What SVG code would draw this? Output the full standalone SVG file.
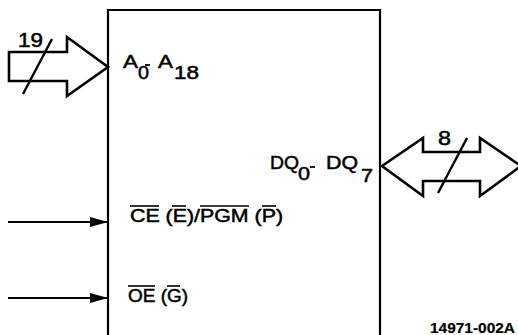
<svg xmlns="http://www.w3.org/2000/svg" width="518" height="335" viewBox="0 0 518 335">
  <style>
    .body { fill: none; stroke: #000; stroke-width: 2.2; }
    .bus { fill: #fff; stroke: #000; stroke-width: 2.6; stroke-linejoin: miter; }
    .slash { stroke: #000; stroke-width: 2.4; }
    .wire { stroke: #000; stroke-width: 2.2; }
    .bar { stroke: #000; stroke-width: 1.6; }
    .dash { stroke: #000; stroke-width: 1.8; }
    text { font-family: "Liberation Sans", Arial, sans-serif; fill: #000; stroke: #000; stroke-width: 0.5; }
    .pin { font-size: 18px; }
    .num { font-size: 20px; }
    .ref { font-size: 15px; font-weight: bold; stroke-width: 0.2; }
  </style>
  <defs>
    <marker id="head" viewBox="0 0 18 10" refX="18" refY="5" markerWidth="18" markerHeight="10" markerUnits="userSpaceOnUse" orient="auto">
      <path d="M0,0 L18,5 L0,10 Z" fill="#000"/>
    </marker>
  </defs>

  <rect width="518" height="335" fill="#fff"/>

  <!-- device body (open at the bottom) -->
  <g id="device">
    <path class="body" d="M108,335 V10 H380 V335"/>

    <!-- address pins -->
    <text class="pin" x="123" y="68" textLength="15" lengthAdjust="spacingAndGlyphs">A</text>
    <text class="pin" x="138" y="79" textLength="11" lengthAdjust="spacingAndGlyphs">0</text>
    <line class="dash" x1="145" y1="65" x2="150" y2="65"/>
    <text class="pin" x="158" y="68" textLength="15" lengthAdjust="spacingAndGlyphs">A</text>
    <text class="pin" x="174" y="79" textLength="25" lengthAdjust="spacingAndGlyphs">18</text>

    <!-- data pins -->
    <text class="pin" x="270" y="169" textLength="29" lengthAdjust="spacingAndGlyphs">DQ</text>
    <text class="pin" x="298" y="180" textLength="12" lengthAdjust="spacingAndGlyphs">0</text>
    <line class="dash" x1="310" y1="167" x2="315" y2="167"/>
    <text class="pin" x="326" y="169" textLength="32" lengthAdjust="spacingAndGlyphs">DQ</text>
    <text class="pin" x="361" y="182" textLength="12" lengthAdjust="spacingAndGlyphs">7</text>

    <!-- chip enable / program -->
    <text class="pin" x="130" y="222" textLength="153" lengthAdjust="spacingAndGlyphs">CE (E)/PGM (P)</text>
    <line class="bar" x1="130" y1="206" x2="159" y2="206"/>
    <line class="bar" x1="172" y1="206" x2="186" y2="206"/>
    <line class="bar" x1="200" y1="206" x2="249" y2="206"/>
    <line class="bar" x1="262" y1="206" x2="276" y2="206"/>

    <!-- output enable -->
    <text class="pin" x="128" y="302" textLength="60" lengthAdjust="spacingAndGlyphs">OE (G)</text>
    <line class="bar" x1="128" y1="286" x2="155" y2="286"/>
    <line class="bar" x1="167" y1="286" x2="180" y2="286"/>
  </g>

  <!-- address bus in -->
  <g id="address-bus">
    <polygon class="bus" points="9,52 67,52 67,37 108,67 67,96 67,81 9,81"/>
    <line class="slash" x1="52" y1="39" x2="23" y2="94"/>
    <text class="num" x="18" y="47" textLength="25" lengthAdjust="spacingAndGlyphs">19</text>
  </g>

  <!-- bidirectional data bus -->
  <g id="data-bus">
    <polygon class="bus" points="382,166 423,138 423,152 480,152 480,138 521,166 480,196 480,181 423,181 423,196"/>
    <line class="slash" x1="467" y1="138" x2="438" y2="193"/>
    <text class="num" x="438" y="145" textLength="13" lengthAdjust="spacingAndGlyphs">8</text>
  </g>

  <!-- control inputs -->
  <g id="connectors">
    <line class="wire" x1="8" y1="222" x2="108" y2="222" marker-end="url(#head)"/>
    <line class="wire" x1="8" y1="298" x2="108" y2="298" marker-end="url(#head)"/>
  </g>

  <text class="ref" x="430" y="333" textLength="85" lengthAdjust="spacingAndGlyphs">14971-002A</text>
</svg>
